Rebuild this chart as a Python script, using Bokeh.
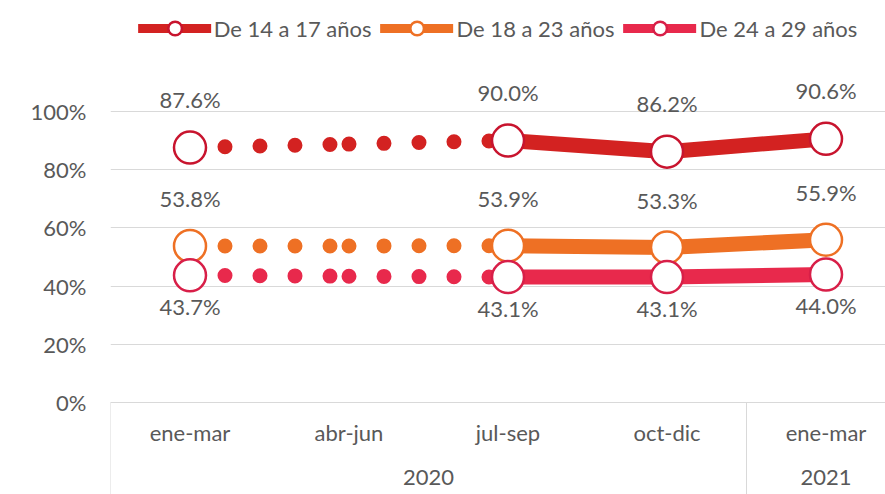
from bokeh.plotting import figure
from bokeh.models import (Range1d, FixedTicker, LinearAxis, ColumnDataSource, LabelSet,
                          Legend, LegendItem, PrintfTickFormatter)
from bokeh.core.properties import value
from bokeh.embed import file_html
from bokeh.resources import INLINE

# ---------------- data ----------------
quarters = ["ene-mar", "abr-jun", "jul-sep", "oct-dic", "ene-mar"]
years = ["2020", "2021"]
year_quarters = [4, 1]          # number of quarters shown for each year
series_names = ["De 14 a 17 años", "De 18 a 23 años", "De 24 a 29 años"]
v14_17 = [87.6, 88.8, 90.0, 86.2, 90.6]
v18_23 = [53.8, 53.8, 53.9, 53.3, 55.9]
v24_29 = [43.7, 43.4, 43.1, 43.1, 44.0]
observed = [True, False, True, True, True]   # abr-jun only on the dotted line
y_ticks = [0, 20, 40, 60, 80, 100]

# ---------------- style / layout ----------------
FONT = "Lato"
FS = "22px"
TXT = "#595959"
GRID = "#d9d9d9"
line_colors = ["#D32221", "#EE7024", "#E8294C"]
edge_colors = ["#C8142E", "#EE7024", "#D81F48"]
label_offsets = [48, 47, -31]

W, H = 885, 494
LEFT = 110            # frame left (px)
CAT_W = 159           # px per category
ZERO_PX = 402         # px of 0 %
PX_PER_100 = 291      # px per 100 %
YEAR_AXIS_PX = 449    # px of the year label axis

xpos = list(range(len(quarters)))
x_end = -0.5 + (W - LEFT) / CAT_W
y_top = ZERO_PX / PX_PER_100 * 100
y_bot = -(H - ZERO_PX) / PX_PER_100 * 100
year_axis_y = -(YEAR_AXIS_PX - ZERO_PX) / PX_PER_100 * 100

p = figure(width=W, height=H, output_backend="svg", toolbar_location=None,
           x_axis_type=None, min_border_left=LEFT, min_border_right=0,
           min_border_top=0, min_border_bottom=0,
           x_range=Range1d(-0.5, x_end), y_range=Range1d(y_bot, y_top))
p.outline_line_color = None
p.background_fill_color = "white"
p.border_fill_color = "white"

# y axis
p.yaxis.ticker = FixedTicker(ticks=y_ticks)
p.yaxis.formatter = PrintfTickFormatter(format="%d%%")
p.yaxis.axis_line_color = None
p.yaxis.major_tick_line_color = None
p.yaxis.minor_tick_line_color = None
p.yaxis.major_tick_out = 0
p.yaxis.major_tick_in = 0
p.yaxis.major_label_standoff = 24
p.yaxis.major_label_text_font = FONT
p.yaxis.major_label_text_font_size = FS
p.yaxis.major_label_text_color = TXT
p.ygrid.ticker = FixedTicker(ticks=y_ticks)
p.ygrid.grid_line_color = GRID
p.xgrid.visible = False

# x axes: quarters and years (placed inside the frame below 0 %)
seps = [-0.5]
centers = []
start = 0
for n in year_quarters:
    centers.append(start + (n - 1) / 2)
    start += n
    seps.append(start - 0.5)


def style_axis(ax, standoff=20):
    ax.major_tick_line_color = None
    ax.minor_tick_line_color = None
    ax.major_tick_out = 0
    ax.major_tick_in = 0
    ax.minor_tick_in = 0
    ax.minor_tick_out = 0
    ax.major_label_standoff = standoff
    ax.major_label_text_font = FONT
    ax.major_label_text_font_size = FS
    ax.major_label_text_color = TXT


ax1 = LinearAxis(ticker=FixedTicker(ticks=xpos),
                 major_label_overrides={i: q for i, q in enumerate(quarters)},
                 fixed_location=0)
style_axis(ax1, 16)
ax1.axis_line_color = GRID

ax2 = LinearAxis(ticker=FixedTicker(ticks=centers),
                 major_label_overrides={c: y for c, y in zip(centers, years)},
                 fixed_location=year_axis_y)
style_axis(ax2, 20)
ax2.axis_line_color = None

# box separators of the category axis (between years)
ax3 = LinearAxis(ticker=FixedTicker(ticks=[], minor_ticks=seps), fixed_location=0)
style_axis(ax3)
ax3.axis_line_color = None
ax3.minor_tick_line_color = GRID
ax3.minor_tick_out = H - ZERO_PX

p.add_layout(ax1, "below")
p.add_layout(ax2, "below")
p.add_layout(ax3, "below")

# series
nan = float("nan")
legend_items = []
for name, vals, lc, ec, off in zip(series_names, [v14_17, v18_23, v24_29],
                                   line_colors, edge_colors, label_offsets):
    # dotted part (ene-mar -> abr-jun -> jul-sep); each segment restarts its dot pattern
    p.multi_line(xs=[[xpos[0], xpos[1]], [xpos[1], xpos[2]]],
                 ys=[[vals[0], vals[1]], [vals[1], vals[2]]],
                 line_color=lc, line_width=15, line_dash="0 35", line_cap="round")
    # solid part
    p.line(x=xpos[2:], y=vals[2:], line_color=lc, line_width=15,
           line_cap="round", line_join="round")
    # markers + data labels
    mx = [x for x, o in zip(xpos, observed) if o]
    my = [v for v, o in zip(vals, observed) if o]
    src = ColumnDataSource(dict(x=mx, y=my, t=[f"{v:.1f}%" for v in my]))
    p.scatter(x="x", y="y", source=src, size=32, fill_color="white",
              line_color=ec, line_width=2.5)
    p.add_layout(LabelSet(x="x", y="y", text="t", source=src, y_offset=off,
                          text_align="center", text_baseline="middle",
                          text_font=value(FONT), text_font_size=value(FS),
                          text_color=TXT))
    # legend-only glyphs (not visible in the plot area)
    lg_line = p.line(x=[nan], y=[nan], line_color=lc, line_width=9, line_cap="round")
    lg_mark = p.scatter(x=[nan], y=[nan], size=14, fill_color="white",
                        line_color=ec, line_width=2.5)
    legend_items.append(LegendItem(label=name, renderers=[lg_line, lg_mark]))

legend = Legend(items=legend_items, orientation="horizontal", location="top_center",
                glyph_width=73, glyph_height=34, label_height=34, label_standoff=3,
                spacing=9, padding=0, margin=11, border_line_color=None,
                background_fill_alpha=0, label_text_font=FONT,
                label_text_font_size=FS, label_text_color=TXT)
p.add_layout(legend)

open("out.html", "w").write(file_html(p, INLINE))
